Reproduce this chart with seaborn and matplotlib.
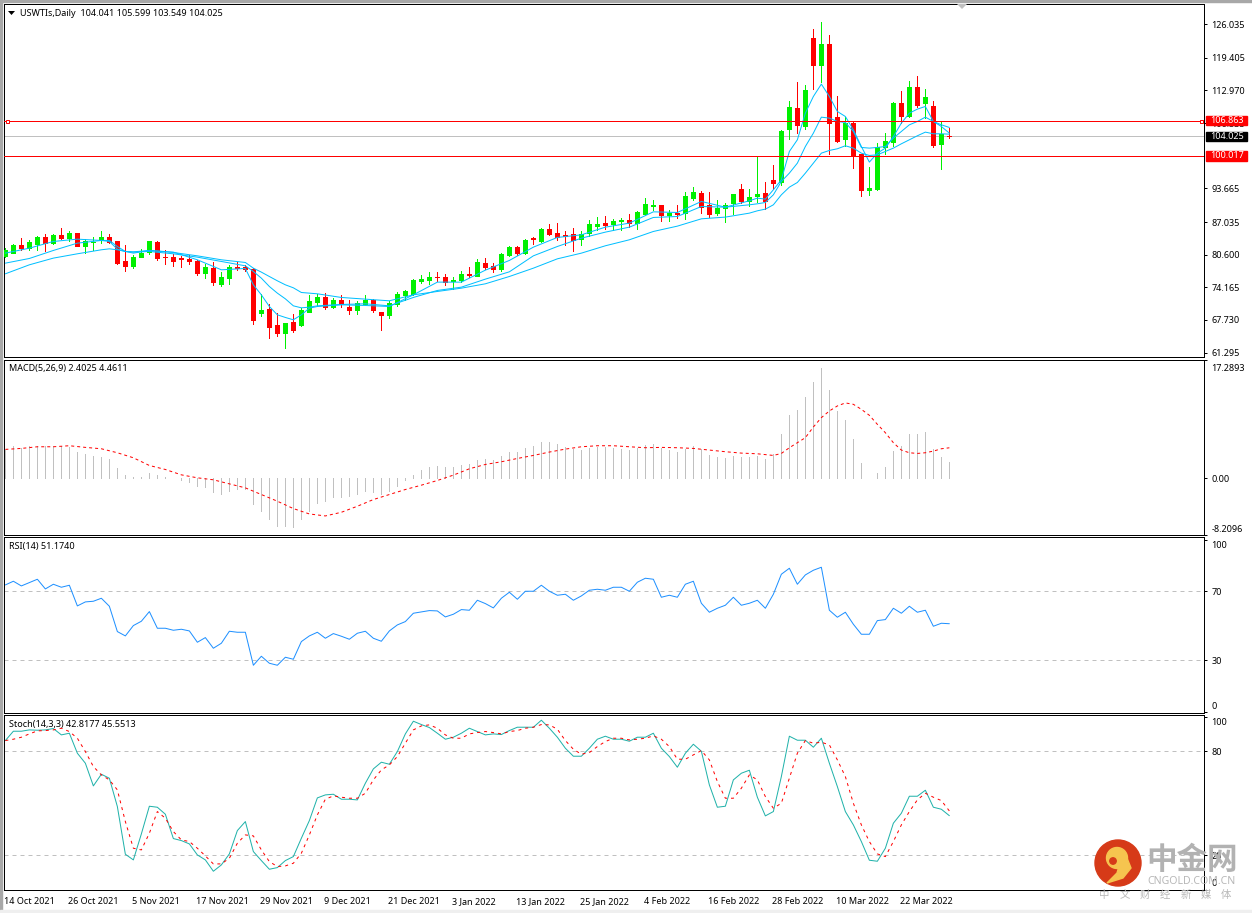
import matplotlib
matplotlib.use("Agg")
import matplotlib.pyplot as plt
from matplotlib.patches import Circle, Polygon, Rectangle
from matplotlib.transforms import ScaledTranslation, blended_transform_factory
import seaborn as sns

# Daily USWTI candles, 14 Oct 2021 to end of March 2022
opens = [80.37,80.90,82.54,81.88,82.67,84.12,82.94,84.51,83.92,84.91,82.35,83.00,83.53,84.05,83.33,79.39,78.40,80.18,81.03,83.13,
         80.18,80.18,79.85,79.72,79.39,76.96,78.01,74.86,76.04,78.08,78.14,77.81,69.14,69.93,66.78,65.21,67.37,66.78,69.34,71.31,
         72.30,70.33,71.71,70.33,69.74,70.92,71.71,69.34,68.75,70.92,72.69,72.89,75.45,75.65,76.24,76.24,75.38,75.65,76.83,76.43,
         78.99,78.40,77.75,80.57,82.15,80.96,83.85,83.33,85.69,84.91,84.51,84.71,83.72,84.91,86.29,86.88,86.68,87.14,87.47,86.88,
         88.65,90.23,90.42,88.45,88.85,88.85,91.80,92.79,90.42,88.85,89.77,90.82,93.57,91.21,92.20,92.79,95.35,94.95,105.40,109.53,
         105.98,123.32,118.00,122.14,107.76,103.43,106.58,100.47,93.38,93.57,101.85,102.83,110.52,107.96,113.67,110.52,109.93,102.44,104.041]
highs = [81.88,82.61,83.79,83.53,84.31,84.58,84.71,85.89,85.30,84.91,83.66,84.05,85.30,84.71,83.33,82.48,80.57,81.69,83.27,83.27,
         81.43,80.77,80.37,80.51,79.59,78.80,79.19,77.22,78.60,79.19,78.60,78.01,72.89,70.92,69.08,67.17,68.95,70.00,72.69,72.82,
         73.02,72.03,72.69,71.71,71.38,72.69,71.90,69.34,71.51,73.15,73.68,75.85,76.63,77.22,77.22,76.83,76.24,77.42,78.21,79.78,
         79.98,78.99,80.96,82.35,82.35,83.72,84.12,85.89,86.68,86.88,85.30,85.89,85.30,87.47,88.06,88.26,87.66,87.86,88.65,89.24,
         91.80,91.41,90.42,89.44,90.42,92.98,93.97,93.18,92.98,91.41,90.82,92.59,94.56,93.57,99.88,94.95,98.30,105.20,110.91,114.65,
         114.06,125.10,126.48,123.91,111.90,107.76,106.84,100.47,97.91,102.57,104.61,110.71,112.88,114.85,115.84,113.27,110.91,106.77,105.599]
lows = [80.11,80.90,81.55,81.43,81.43,81.23,82.67,83.66,83.39,82.21,80.90,81.55,82.87,82.87,78.80,77.48,77.88,80.18,80.64,79.59,
        78.80,78.40,78.08,78.80,76.63,76.04,74.66,74.33,74.86,77.62,77.29,66.98,68.42,64.09,64.48,62.12,65.27,66.45,69.21,70.52,
        69.93,70.00,70.26,68.95,68.95,70.72,69.34,65.80,68.16,70.52,71.71,72.69,74.99,74.86,75.32,74.53,73.87,75.25,76.17,76.30,
        77.81,77.22,77.48,80.37,80.57,80.77,82.74,83.13,84.51,83.53,82.54,81.36,82.54,84.31,85.50,85.69,85.50,85.50,86.09,85.69,
        88.45,89.44,87.27,87.27,87.86,87.66,91.41,88.85,88.06,88.45,87.07,88.65,90.82,90.23,91.02,89.63,93.57,94.36,103.43,104.61,
        105.40,113.28,114.65,100.47,102.83,101.91,97.71,92.20,92.39,93.38,100.47,102.05,106.58,107.76,109.73,107.56,101.85,97.52,103.549]
closes = [81.43,82.48,81.88,83.13,84.12,82.94,84.45,83.79,84.91,82.35,83.33,83.07,84.05,83.07,78.93,78.40,80.18,80.90,83.27,79.98,
          80.05,79.39,79.72,79.39,76.96,78.21,75.25,76.24,78.21,77.88,77.81,67.77,69.74,66.39,65.21,67.17,65.80,69.74,71.51,72.30,
          70.33,71.71,70.85,69.74,71.12,71.71,69.74,68.75,71.12,72.89,73.48,75.65,75.85,76.24,76.11,75.25,75.65,76.83,76.63,79.19,
          78.21,77.75,80.77,82.15,80.96,83.53,83.72,85.69,84.71,84.12,84.31,83.53,84.71,86.68,86.68,86.48,87.27,87.47,86.88,89.04,
          90.62,90.42,88.45,88.85,88.65,92.20,92.98,90.03,88.65,89.83,90.42,92.59,91.21,92.00,92.59,91.21,94.76,105.00,109.73,106.18,
          113.08,118.00,122.14,106.58,103.03,106.58,100.01,93.38,93.71,101.85,103.03,110.52,107.96,113.67,110.12,111.70,102.24,104.34,104.025]

# Three moving averages, read at these bars
ma_bars = [0,3,6,9,12,13,14,15,16,18,21,24,27,30,31,32,33,34,35,36,37,38,39,42,45,48,51,54,57,60,63,66,69,72,75,78,81,84,87,90,93,94,95,96] + list(range(97, 119))
ma_fast = [80.90,81.88,83.20,83.66,83.40,83.40,82.21,81.23,80.90,81.43,81.10,79.59,77.62,77.88,74.66,72.69,70.39,68.75,68.23,67.77,68.75,70.06,70.39,70.72,70.59,70.39,72.69,75.19,75.19,77.55,79.46,82.08,83.99,84.51,86.02,86.81,89.04,88.91,91.08,89.96,91.21,91.74,91.54,93.38,
           95.35,100.93,103.23,108.48,111.76,114.20,111.76,108.81,107.82,105.20,101.91,98.83,100.60,101.59,103.88,106.51,108.48,109.27,109.80,106.84,106.18,105.66]
ma_mid = [78.93,79.85,81.43,82.87,83.40,83.20,81.69,81.23,81.10,81.23,80.77,80.11,79.26,78.40,77.29,75.97,74.33,73.02,71.90,70.52,70.13,70.26,70.52,70.79,70.92,70.52,72.17,73.55,74.20,75.78,77.22,80.37,82.21,83.85,85.04,86.02,87.93,88.12,90.09,89.96,90.42,90.62,90.88,92.39,
          95.02,96.66,98.63,101.91,104.54,107.69,107.50,106.84,106.64,104.87,101.72,101.59,101.72,101.91,103.56,104.87,106.18,106.84,107.69,106.84,105.85,104.54]
ma_slow = [76.83,78.60,79.92,80.77,81.56,81.75,81.56,81.23,81.16,81.43,81.03,80.37,79.59,79.06,77.94,77.16,76.30,75.45,74.66,74.07,73.15,73.02,72.89,72.17,71.84,71.51,72.69,73.35,74.00,74.86,76.30,77.94,79.78,80.90,82.35,83.53,85.17,86.22,87.66,88.00,88.78,89.24,89.57,90.42,
           92.39,93.90,94.82,96.66,98.63,100.60,101.13,101.46,102.05,101.59,100.60,100.14,100.27,100.93,101.59,102.44,103.23,104.02,104.74,104.41,104.41,104.34]

macd_hist = [4.18,4.66,4.37,4.66,4.66,4.66,4.66,4.66,4.52,3.79,3.50,3.21,3.06,2.77,1.46,0.44,0.15,0.29,0.87,0.44,
             0.15,0.05,-0.29,-0.44,-1.02,-1.17,-1.89,-2.19,-1.75,-1.46,-1.46,-3.64,-4.66,-5.83,-6.85,-6.85,-6.99,-5.83,-4.66,-3.50,
             -3.21,-2.62,-2.62,-2.48,-2.19,-1.75,-1.89,-2.19,-1.75,-1.02,-0.29,0.44,1.17,1.60,1.75,1.60,1.60,1.89,2.04,2.62,
             2.77,2.62,3.21,3.79,3.79,4.37,4.66,5.25,5.25,4.95,4.52,4.23,4.08,4.37,4.52,4.52,4.37,4.23,4.08,4.37,
             4.81,4.95,4.37,4.08,3.79,4.23,4.66,4.23,3.35,3.06,2.91,3.21,3.06,3.06,3.21,2.77,3.50,6.41,9.18,9.91,
             11.80,13.99,16.03,12.82,9.76,8.45,5.68,2.19,0.0,0.87,1.60,3.93,4.66,6.41,6.41,6.70,4.23,3.06,2.4025]
signal_bars = list(range(0, 97, 2)) + list(range(97, 119))
macd_signal = [4.23,4.37,4.61,4.61,4.76,4.52,4.32,3.74,3.01,1.89,1.31,0.53,0.10,-0.19,-0.78,-1.36,-2.33,-3.30,-4.37,-5.15,-5.44,-4.91,-4.03,-3.06,-2.33,-1.60,-0.97,-0.29,0.49,1.41,2.04,2.43,2.91,3.35,3.84,4.27,4.61,4.76,4.76,4.61,4.47,4.52,4.47,4.37,4.13,3.89,3.69,3.59,3.35,
               3.64,4.47,5.20,5.93,7.48,8.84,9.81,10.54,10.98,10.78,10.05,9.18,7.87,6.65,5.20,4.13,3.74,3.64,3.74,3.98,4.32,4.4611]

rsi = [73.67,75.80,73.09,75.02,76.96,71.35,74.06,72.32,73.48,61.50,63.82,64.20,65.94,61.30,46.62,44.11,50.10,52.61,58.21,48.55,
       48.55,47.39,47.97,47.00,40.43,43.14,36.96,39.86,46.81,46.23,46.23,27.10,32.32,28.26,27.10,31.74,30.58,40.82,44.11,46.23,
       42.75,45.46,43.91,42.17,45.65,46.81,42.75,41.01,47.00,50.48,52.42,57.25,58.02,58.79,58.60,55.12,56.67,59.37,58.99,64.78,
       62.85,60.34,65.94,69.42,65.36,70.00,70.00,73.48,70.00,67.68,68.26,64.78,67.29,70.58,71.16,70.58,72.32,72.32,70.00,75.22,
       77.54,76.96,66.52,67.68,66.52,74.06,75.80,63.04,57.83,60.14,61.88,66.52,61.88,63.04,64.78,60.14,68.26,79.86,83.33,74.06,
       79.47,82.17,83.91,58.99,54.93,57.83,50.87,45.07,45.07,52.99,53.57,60.14,57.25,61.30,57.83,58.99,49.71,51.45,51.174]

stoch_main = [86.15,91.54,91.54,92.31,92.12,92.31,93.08,89.43,90.38,78.85,73.08,60.00,66.73,64.42,48.08,20.58,17.31,32.31,48.27,47.69,
              43.65,29.62,28.46,26.54,20.19,17.31,10.77,14.42,20.77,34.23,39.42,22.12,16.92,11.92,12.88,16.92,19.23,29.81,40.00,53.08,
              54.81,55.19,52.31,52.31,51.92,61.54,69.81,73.66,72.50,79.81,90.00,97.31,95.39,93.66,90.39,86.93,88.08,90.39,93.27,91.35,
              89.43,90.00,89.62,91.93,93.85,93.85,93.85,97.89,93.27,88.08,81.73,77.12,77.12,81.73,86.93,88.66,86.93,86.93,85.77,88.08,
              88.08,90.39,81.73,76.93,70.77,78.85,84.04,80.00,60.58,47.70,48.27,63.47,67.31,69.04,53.47,42.70,45.20,65.39,88.66,86.35,
              86.35,82.31,87.50,73.08,59.62,45.20,37.50,27.89,17.12,16.54,24.04,38.47,44.23,54.04,54.04,57.50,47.70,46.54,42.8177]
stoch_signal = [86.15,86.93,88.08,90.00,91.73,91.93,92.31,93.27,91.35,87.50,79.81,71.16,66.35,63.47,57.70,39.43,24.04,23.08,32.70,45.20,
                41.35,33.66,28.85,27.89,24.04,19.62,15.00,15.00,18.27,26.93,31.73,31.16,23.08,16.35,13.47,13.85,15.39,21.16,31.73,43.27,
                52.31,54.24,53.47,52.89,52.89,55.77,63.47,69.24,72.12,76.93,84.62,92.31,94.62,95.20,93.27,89.43,87.50,87.50,90.00,90.77,
                91.35,90.77,90.00,91.35,91.93,93.27,93.85,95.39,95.20,92.70,86.16,81.16,78.27,79.23,82.70,85.58,87.50,87.50,86.54,86.93,
                87.50,88.85,86.93,82.70,75.39,75.39,77.89,80.39,75.00,62.50,52.89,52.89,58.66,66.35,63.47,53.85,47.12,50.00,64.43,78.85,
                86.16,84.62,85.20,83.66,75.00,65.39,50.00,37.50,27.89,20.77,19.23,27.89,37.50,45.20,51.93,55.77,53.47,51.54,45.5513]

date_ticks = [0, 8, 16, 24, 32, 40, 48, 56, 64, 72, 80, 88, 96, 104, 112]
date_labels = ["14 Oct 2021", "26 Oct 2021", "5 Nov 2021", "17 Nov 2021", "29 Nov 2021", "9 Dec 2021", "21 Dec 2021",
               "3 Jan 2022", "13 Jan 2022", "25 Jan 2022", "4 Feb 2022", "16 Feb 2022", "28 Feb 2022", "10 Mar 2022", "22 Mar 2022"]
price_ticks = [126.035, 119.405, 112.970, 106.535, 93.665, 87.035, 80.600, 74.165, 67.730, 61.295]
resistance, support, last_close = 106.863, 100.017, 104.025

W, H = 1252, 913
PX = 0.72  # one pixel in points at 100 dpi
UP, DOWN, MA_BLUE, LEVEL = "#00F000", "#FF0000", "#00BFFF", "#C0C0C0"
FONT = 6.5

sns.set_theme(style="white", rc={"axes.linewidth": PX, "axes.edgecolor": "black"})
plt.rcParams["font.family"] = ["Noto Sans", "DejaVu Sans"]

fig = plt.figure(figsize=(W / 100, H / 100), dpi=100, facecolor="white")


def panel(top, bottom, ylim):
    ax = fig.add_axes([4 / W, 1 - bottom / H, 1200 / W, (bottom - top) / H])
    ax.set_xlim(-0.17, 149.83)
    ax.set_ylim(*ylim)
    ax.set_xticks([])
    ax.yaxis.tick_right()
    ax.tick_params(axis="y", length=3 * PX, width=PX, pad=3, labelsize=FONT, colors="black")
    for spine in ax.spines.values():
        spine.set_linewidth(PX)
        spine.set_visible(True)
    return ax


def trace(ax, xs, ys, color, **kw):
    sns.lineplot(x=xs, y=ys, ax=ax, color=color, linewidth=PX, estimator=None, errorbar=None, **kw)


def nudge(ax, shifts):
    # Moves the end labels of a scale inward, leaving the tick marks in place
    for label, px in zip(ax.get_yticklabels(), shifts):
        label.set_transform(label.get_transform() + ScaledTranslation(0, -px / 100, fig.dpi_scale_trans))


# Price panel
price = panel(3.8, 356.8, (60.48, 130.02))
bars = list(range(len(closes)))
colors = [UP if c >= o else DOWN for o, c in zip(opens, closes)]
price.vlines(bars, lows, highs, colors=colors, linewidth=PX, antialiased=False, zorder=2)
price.bar(bars, [abs(c - o) for o, c in zip(opens, closes)], bottom=[min(o, c) for o, c in zip(opens, closes)],
          width=0.52, color=colors, edgecolor=colors, linewidth=PX, antialiased=False, zorder=3)
for series in (ma_fast, ma_mid, ma_slow):
    trace(price, ma_bars, series, MA_BLUE, zorder=4)
price.axhline(last_close, color=LEVEL, linewidth=PX, zorder=1)
price.axhline(resistance, color=DOWN, linewidth=PX, zorder=5)
price.axhline(support, color=DOWN, linewidth=PX, zorder=5)
edge = blended_transform_factory(price.transAxes, price.transData)
price.plot([3 / 1200, 1197 / 1200], [resistance, resistance], transform=edge, linestyle="none", marker="s",
           markersize=3 * PX, markerfacecolor="white", markeredgecolor=DOWN, markeredgewidth=PX, zorder=6)
price.set_yticks(price_ticks)
price.set_yticklabels([f"{t:.3f}" for t in price_ticks])

# MACD panel
macd = panel(359.5, 535, (-8.2096, 17.2893))
macd.vlines(bars, 0, macd_hist, colors=LEVEL, linewidth=PX, antialiased=False)
trace(macd, signal_bars, macd_signal, DOWN, linestyle=(0, (3, 3)))
macd.set_yticks([17.2893, 0, -8.2096])
macd.set_yticklabels(["17.2893", "0.00", "-8.2096"])
nudge(macd, [7.5, 0, -7])

# RSI panel
rsi_ax = panel(537, 713, (-0.58, 101.45))
trace(rsi_ax, bars, rsi, "#1E90FF")
for level in (70, 30):
    rsi_ax.axhline(level, color=LEVEL, linewidth=PX, linestyle=(0, (4, 4)), zorder=1)
rsi_ax.set_yticks([100, 70, 30, 0])
rsi_ax.set_yticklabels(["100", "70", "30", "0"])
nudge(rsi_ax, [4.5, 0, 0, -6])

# Stochastic panel
stoch = panel(715, 890, (-0.05, 100.9))
trace(stoch, bars, stoch_main, "#20B2AA")
trace(stoch, bars, stoch_signal, DOWN, linestyle=(0, (3, 4)))
for level in (80, 20):
    stoch.axhline(level, color=LEVEL, linewidth=PX, linestyle=(0, (4, 4)), zorder=1)
stoch.set_yticks([100, 80, 20, 0])
stoch.set_yticklabels(["100", "80", "20", "0"])
nudge(stoch, [5, 0, 0, -7])
stoch.set_xticks(date_ticks)
stoch.set_xticklabels(date_labels, ha="left")
stoch.tick_params(axis="x", length=3 * PX, width=PX, pad=3, labelsize=FONT, colors="black")
for label in stoch.get_xticklabels():
    label.set_transform(label.get_transform() + ScaledTranslation(-1 / 100, 0, fig.dpi_scale_trans))

# Pixel-space layer for window chrome, captions, price flags and the watermark
layer = fig.add_axes([0, 0, 1, 1], facecolor="none")
layer.set_xlim(0, W)
layer.set_ylim(H, 0)
layer.axis("off")
layer.add_patch(Rectangle((0, 0), W, 2, color="#A8A8A8"))
layer.add_patch(Rectangle((0, 0), 2, H, color="#A8A8A8"))
layer.add_patch(Rectangle((0, 910), W, 3, color="#EFEFEF"))
layer.add_patch(Polygon([(8, 11), (15, 11), (11.5, 15)], closed=True, facecolor="black", edgecolor="none"))
layer.add_patch(Polygon([(957, 4), (967, 4), (962, 9)], closed=True, facecolor="#C0C0C0", edgecolor="none"))

captions = [(20, 13, "USWTIs,Daily  104.041 105.599 103.549 104.025"), (9, 368, "MACD(5,26,9) 2.4025 4.4611"),
            (9, 546, "RSI(14) 51.1740"), (9, 724, "Stoch(14,3,3) 42.8177 45.5513")]
for x, y, caption in captions:
    layer.text(x, y, caption, fontsize=FONT, color="black", ha="left", va="center")

flags = [(116, 125, "#FF0000", f"{resistance:.3f}", 120.5), (132, 141, "black", f"{last_close:.3f}", 136.5),
         (151, 161, "#FF0000", f"{support:.3f}", 156)]
for y0, y1, face, text, yc in flags:
    layer.add_patch(Rectangle((1206, y0), 41, y1 - y0, color=face, zorder=5))
    layer.text(1210, yc, text, fontsize=FONT, color="white", ha="left", va="center", zorder=6)

# Watermark
layer.add_patch(Circle((1118, 863), 23, color="#D63A18", zorder=7))
layer.add_patch(Circle((1117, 858), 10.5, color="#F6C44F", zorder=8))
layer.add_patch(Polygon([(1127, 858), (1131, 868), (1123, 878), (1107, 883), (1117, 873), (1119, 866)],
                        closed=True, color="#F6C44F", zorder=8))
layer.add_patch(Circle((1113, 861), 3.2, color="#D63A18", zorder=9))
layer.text(1192, 860, "中金网", fontsize=22, fontweight="bold", color="#B2B2B2", ha="center", va="center",
           family=["Noto Sans CJK SC", "DejaVu Sans"], zorder=7)
layer.text(1192, 881, "CNGOLD.COM.CN", fontsize=7.6, color="#B8B8B8", ha="center", va="center", zorder=7)
for i, ch in enumerate("中文财经新媒体"):
    layer.text(1104 + i * 20.4, 895, ch, fontsize=7.5, color="#B8B8B8", ha="center", va="center",
               family=["Noto Sans CJK SC", "DejaVu Sans"], zorder=7)

fig.savefig("out.png", dpi=100, facecolor="white")
